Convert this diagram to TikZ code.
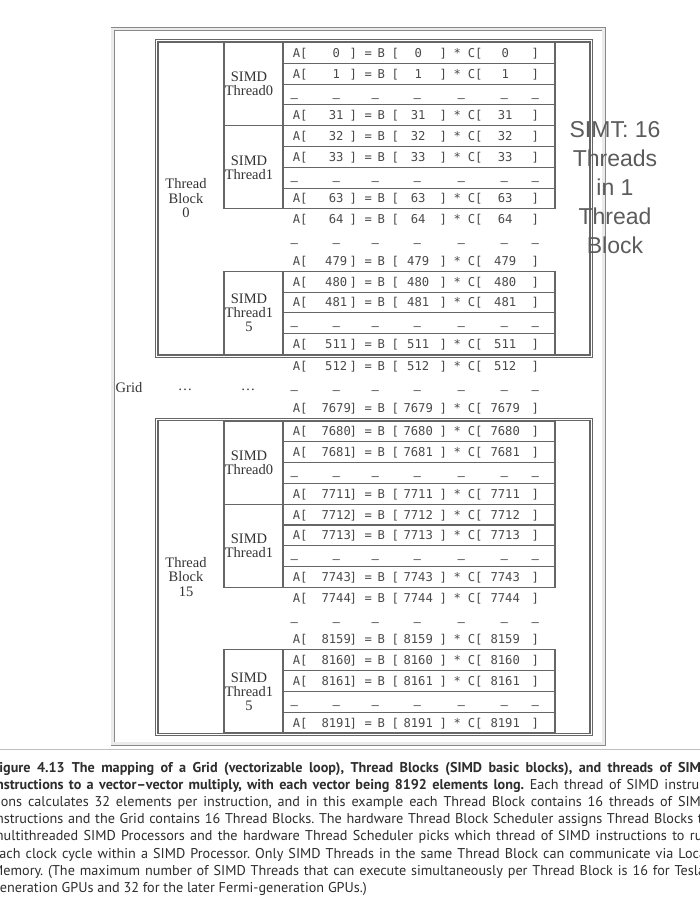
\documentclass[tikz,border=0pt]{standalone}
\usepackage{fontspec}
\setmainfont{Liberation Serif}
\newfontfamily\codefont{DejaVu Sans Mono}
\newfontfamily\simtfont{Liberation Sans}
\newfontfamily\capfont{PT Sans}
\definecolor{framegray}{HTML}{8A8A8A}
\definecolor{boxgray}{HTML}{666666}
\definecolor{codegray}{HTML}{4A4A4A}
\definecolor{labgray}{HTML}{333333}
\definecolor{simtgray}{HTML}{5C5C5C}
\definecolor{capgray}{HTML}{2E2E2E}

\newcommand{\rowtext}[1]{\hbox to 250pt{\kern10pt\makebox[0pt]{A[}\kern36pt\makebox[0pt]{#1}\kern17pt\makebox[0pt]{]}\kern15pt\makebox[0pt]{=}\kern13pt\makebox[0pt]{B}\kern14pt\makebox[0pt]{[}\kern23pt\makebox[0pt]{#1}\kern25pt\makebox[0pt]{]}\kern14pt\makebox[0pt]{*}\kern18pt\makebox[0pt]{C[}\kern30pt\makebox[0pt]{#1}\kern30pt\makebox[0pt]{]}\hfil}}
\newcommand{\dashtext}{\hbox to 250pt{\kern4pt\makebox[0pt]{–}\kern42pt\makebox[0pt]{–}\kern39pt\makebox[0pt]{–}\kern42pt\makebox[0pt]{–}\kern44pt\makebox[0pt]{–}\kern43pt\makebox[0pt]{–}\kern31pt\makebox[0pt]{–}\hfil}}
\newcommand{\coderow}[3]{\node[code] (#1) at (290,{#2+14.8}) {\rowtext{#3}};}
\newcommand{\dashrow}[2]{\node[code] (#1) at (290,{#2+18}) {\dashtext};}
\newcommand{\simdbox}[6]{%
  \draw[boxline] (224,#2) rectangle (555,{#2+83.2});
  \draw[boxline] (283,#2) -- (283,{#2+83.2});
  \foreach \k in {1,2,3} {\draw[boxline] (283,{#2+\k*20.8}) -- (555,{#2+\k*20.8});}
  \node[simdlab] (#1lab) at (249,{#2+41.6}) {#3};
  \coderow{#1a}{#2}{#4}
  \coderow{#1b}{#2+20.8}{#5}
  \dashrow{#1c}{#2+41.6}
  \coderow{#1d}{#2+62.4}{#6}
}

\begin{document}
\frenchspacing
\begin{tikzpicture}[x=1pt,y=-1pt,
  boxline/.style={draw=boxgray, line width=1.1pt},
  code/.style={anchor=base west, inner sep=0pt, font=\codefont\fontsize{12.2}{12.2}\selectfont, text=codegray},
  simdlab/.style={align=center, inner sep=0pt, font=\fontsize{14.5}{14}\selectfont, text=labgray},
  blocklab/.style={align=center, inner sep=0pt, font=\fontsize{14.5}{14.5}\selectfont, text=labgray},
  gridframe/.style={draw=framegray, line width=0.9pt, double=black!8, double distance=2.2pt},
  blockframe/.style={draw=boxgray, line width=1.1pt, double=white, double distance=1.1pt},
  captext/.style={anchor=base west, inner sep=0pt, font=\capfont\fontsize{14.2}{17}\selectfont, text=capgray},
]
\useasboundingbox (0,0) rectangle (700,912);
\fill[white] (0,0) rectangle (700,912);
\begin{scope}
\clip (0,0) rectangle (700,912);

% grid frame
\draw[gridframe] (112.5,29) rectangle (603.5,743.5);
\draw[black!25, line width=1pt] (0,749.5) -- (700,749.5);

% thread block 0
\draw[blockframe] (156.9,40.9) rectangle (591.1,356.1);
\node[blocklab] (tb0) at (186,198.5) {Thread\\Block\\0};
\simdbox{sa}{42.5}{SIMD\\Thread0}{0}{1}{31}
\simdbox{sb}{125.7}{SIMD\\Thread1}{32}{33}{63}
\coderow{fa}{208.9}{64}
\dashrow{fb}{229.7}
\coderow{fc}{250.5}{479}
\simdbox{sc}{271.3}{SIMD\\Thread1\\5}{480}{481}{511}

% between blocks
\coderow{ga}{356.1}{512}
\dashrow{gb}{376.9}
\coderow{gc}{397.7}{7679}
\node[blocklab] (grid) at (129,387.5) {Grid};
\node[blocklab] (dots1) at (185,390) {\dots};
\node[blocklab] (dots2) at (248,390) {\dots};

% thread block 15
\draw[blockframe] (156.9,419.4) rectangle (591.1,734.6);
\node[blocklab] (tb15) at (186,577) {Thread\\Block\\15};
\simdbox{ta}{421}{SIMD\\Thread0}{7680}{7681}{7711}
\simdbox{tb}{504.2}{SIMD\\Thread1}{7712}{7713}{7743}
\coderow{ha}{587.4}{7744}
\dashrow{hb}{608.2}
\coderow{hc}{629}{8159}
\simdbox{tc}{649.8}{SIMD\\Thread1\\5}{8160}{8161}{8191}

% SIMT label
\node[align=center, inner sep=0pt, font=\simtfont\fontsize{23}{29}\selectfont, text=simtgray] (simt) at (615,188) {SIMT: 16\\Threads\\in 1\\Thread\\Block};

% caption
\node[captext] (cap1) at (-8,772) {\makebox[718pt][s]{\bfseries Figure 4.13\enspace The mapping of a Grid (vectorizable loop), Thread Blocks (SIMD basic blocks), and threads of SIMD}};
\node[captext] (cap2) at (-8,789.2) {\makebox[718pt][s]{\bfseries instructions to a vector–vector multiply, with each vector being 8192 elements long.\mdseries{} Each thread of SIMD instruc-}};
\node[captext] (cap3) at (-8,806.4) {\makebox[718pt][s]{tions calculates 32 elements per instruction, and in this example each Thread Block contains 16 threads of SIMD}};
\node[captext] (cap4) at (-8,823.6) {\makebox[718pt][s]{instructions and the Grid contains 16 Thread Blocks. The hardware Thread Block Scheduler assigns Thread Blocks to}};
\node[captext] (cap5) at (-8,840.8) {\makebox[718pt][s]{multithreaded SIMD Processors and the hardware Thread Scheduler picks which thread of SIMD instructions to run}};
\node[captext] (cap6) at (-8,858) {\makebox[718pt][s]{each clock cycle within a SIMD Processor. Only SIMD Threads in the same Thread Block can communicate via Local}};
\node[captext] (cap7) at (-8,875.2) {\makebox[718pt][s]{Memory. (The maximum number of SIMD Threads that can execute simultaneously per Thread Block is 16 for Tesla-}};
\node[captext] (cap8) at (-8,892.4) {\makebox[718pt][l]{generation GPUs and 32 for the later Fermi-generation GPUs.)}};
\end{scope}
\end{tikzpicture}
\end{document}
